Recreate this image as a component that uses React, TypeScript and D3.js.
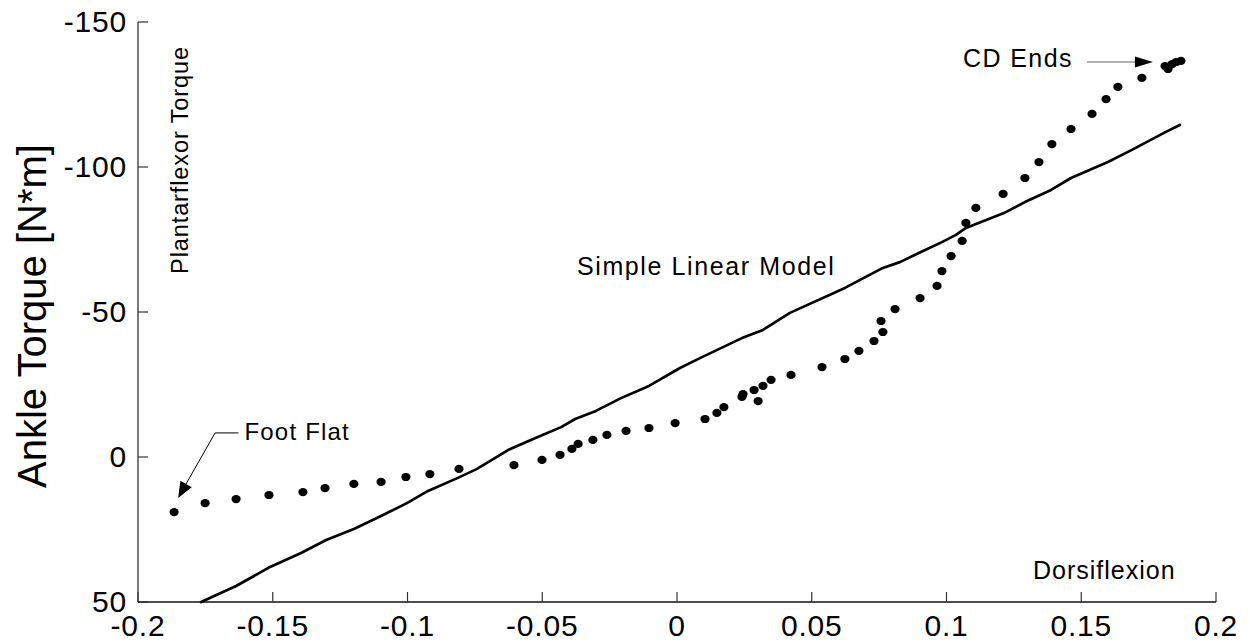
import React from "react";
import * as d3 from "d3";

// Measured ankle torque (dots)
const measuredAngle = [
  -0.1866, -0.1751, -0.1636, -0.1514, -0.1388, -0.1306, -0.1199, -0.1098, -0.1006, -0.0917,
  -0.0809, -0.0605, -0.0501, -0.0434, -0.039, -0.0367, -0.0312, -0.026, -0.0189, -0.0104,
  -0.0007, 0.0104, 0.0148, 0.0174, 0.0241, 0.0245, 0.0286, 0.0301, 0.0319, 0.0349,
  0.0423, 0.0538, 0.0623, 0.0675, 0.0731, 0.0764, 0.0757, 0.0809, 0.0902, 0.0965,
  0.0983, 0.1017, 0.1058, 0.1072, 0.1109, 0.121, 0.1291, 0.1343, 0.1391, 0.1462,
  0.154, 0.1592, 0.1636, 0.1725, 0.1811, 0.1822, 0.1837, 0.1852, 0.187,
];
const measuredTorque = [
  19.0, 15.9, 14.5, 13.1, 12.1, 10.7, 9.3, 8.6, 6.9, 5.9,
  4.1, 2.8, 1.0, -0.7, -2.8, -4.5, -5.9, -7.6, -9.0, -10.0,
  -11.7, -13.1, -15.2, -17.2, -20.7, -21.7, -23.1, -19.3, -24.5, -26.6,
  -28.3, -31.0, -33.8, -36.6, -40.0, -43.1, -46.9, -51.0, -54.8, -59.0,
  -64.1, -69.3, -74.5, -80.7, -85.9, -90.7, -96.2, -101.7, -107.9, -113.1,
  -118.3, -123.4, -127.6, -130.7, -134.8, -133.8, -135.5, -136.2, -136.6,
];

// Simple linear model (solid line)
const modelAngle = [
  -0.1766, -0.1636, -0.151, -0.1395, -0.1302, -0.1199, -0.1106, -0.1002, -0.0924, -0.0813,
  -0.0742, -0.0627, -0.0523, -0.043, -0.0378, -0.0301, -0.0208, -0.0104, 0.0011, 0.0085,
  0.0241, 0.0319, 0.0419, 0.0623, 0.0764, 0.0827, 0.0905, 0.0983, 0.1035, 0.1072,
  0.1213, 0.1291, 0.1388, 0.1462, 0.1599, 0.1688, 0.1814, 0.1866,
];
const modelTorque = [
  50.0, 44.5, 37.9, 33.1, 28.6, 24.8, 20.7, 15.9, 11.7, 7.2,
  4.1, -2.4, -6.6, -10.3, -13.1, -15.9, -20.3, -24.5, -30.7, -34.1,
  -41.0, -43.8, -49.7, -58.3, -65.2, -67.2, -70.7, -74.1, -76.6, -79.0,
  -84.1, -87.9, -92.1, -96.2, -101.7, -105.9, -112.1, -114.5,
];

const xTicks = [-0.2, -0.15, -0.1, -0.05, 0, 0.05, 0.1, 0.15, 0.2];
const xTickLabels = ["-0.2", "-0.15", "-0.1", "-0.05", "0", "0.05", "0.1", "0.15", "0.2"];
const yTicks = [-150, -100, -50, 0, 50];
const yTickLabels = ["-150", "-100", "-50", "0", "50"];

const FONT = "'Liberation Sans', Arial, sans-serif";

export default function App() {
  const W = 1250, H = 643;
  const left = 138, right = 1216, top = 22, bottom = 602;
  const x = d3.scaleLinear().domain([-0.2, 0.2]).range([left, right]);
  const y = d3.scaleLinear().domain([-150, 50]).range([top, bottom]);

  const pts = modelAngle.map((a, i) => [a, modelTorque[i]] as [number, number]);
  const linePath = d3.line<[number, number]>().x(d => x(d[0])).y(d => y(d[1]))(pts) || "";

  // Foot Flat arrow geometry (data coords)
  const ffText = { x: -0.1605, y: -6.7 };
  const ffElbow = { x: -0.1714, y: -8.3 };
  const ffTip = { x: -0.1851, y: 14.1 };
  const ex = x(ffElbow.x), ey = y(ffElbow.y);
  const tx = x(ffTip.x), ty = y(ffTip.y);
  const ang = Math.atan2(ty - ey, tx - ex);
  const hl = 16, hw = 6.5;
  const headFF = [
    [tx, ty],
    [tx - hl * Math.cos(ang) + hw * Math.sin(ang), ty - hl * Math.sin(ang) - hw * Math.cos(ang)],
    [tx - hl * Math.cos(ang) - hw * Math.sin(ang), ty - hl * Math.sin(ang) + hw * Math.cos(ang)],
  ].map(p => p.join(",")).join(" ");

  // CD Ends arrow
  const cdY = y(-136.2);
  const cdStart = x(0.1521), cdTip = x(0.1766);
  const headCD = [
    [cdTip, cdY],
    [cdTip - 18, cdY - 5.5],
    [cdTip - 18, cdY + 5.5],
  ].map(p => p.join(",")).join(" ");

  return (
    <svg width={W} height={H} style={{ position: "absolute", left: 0, top: 0, background: "#fff" }}
      fontFamily={FONT}>
      <rect x={0} y={0} width={W} height={H} fill="#fff" />
      {/* axes */}
      <line x1={left} y1={top} x2={left} y2={bottom} stroke="#333" strokeWidth={1.3} />
      <line x1={left} y1={bottom} x2={right} y2={bottom} stroke="#111" strokeWidth={1.3} />
      {yTicks.map(t => (
        <line key={"yt" + t} x1={left} x2={left + 10} y1={y(t)} y2={y(t)} stroke="#333" strokeWidth={1.2} />
      ))}
      {xTicks.map(t => (
        <line key={"xt" + t} x1={x(t)} x2={x(t)} y1={bottom} y2={bottom - 10} stroke="#333" strokeWidth={1.2} />
      ))}
      {yTicks.map((t, i) => (
        <text key={"yl" + t} x={127} y={y(t)} dy="0.34em" textAnchor="end" fontSize={30} letterSpacing={0.8} fill="#000">
          {yTickLabels[i]}
        </text>
      ))}
      {xTicks.map((t, i) => (
        <text key={"xl" + t} x={x(t)} y={636} textAnchor="middle" fontSize={30} letterSpacing={0.8} fill="#000">
          {xTickLabels[i]}
        </text>
      ))}
      <text transform={`translate(46,316) rotate(-90)`} textAnchor="middle" fontSize={40} fill="#000">
        Ankle Torque [N*m]
      </text>

      {/* model line */}
      <path d={linePath} fill="none" stroke="#000" strokeWidth={2.7} strokeLinejoin="round" strokeLinecap="round" />

      {/* measured dots */}
      {measuredAngle.map((a, i) => (
        <ellipse key={"p" + i} cx={x(a)} cy={y(measuredTorque[i])} rx={4.6} ry={4.1} fill="#000" />
      ))}

      {/* annotations */}
      <text transform={`translate(188,160) rotate(-90)`} textAnchor="middle" fontSize={23.5} letterSpacing={0.9} fill="#000">
        Plantarflexor Torque
      </text>
      <text x={577} y={275} fontSize={25} letterSpacing={1.6} fill="#000">Simple Linear Model</text>
      <text x={1033} y={579} fontSize={25} letterSpacing={1} fill="#000">Dorsiflexion</text>
      <text x={x(ffText.x)} y={440} fontSize={24} letterSpacing={1.2} fill="#000">Foot Flat</text>
      <text x={963} y={67} fontSize={25} letterSpacing={1.4} fill="#000">CD Ends</text>

      {/* Foot Flat arrow */}
      <line x1={x(ffText.x) - 6} y1={ey} x2={ex} y2={ey} stroke="#000" strokeWidth={1} />
      <line x1={ex} y1={ey} x2={tx - (hl - 2) * Math.cos(ang)} y2={ty - (hl - 2) * Math.sin(ang)} stroke="#000" strokeWidth={1} />
      <polygon points={headFF} fill="#000" />

      {/* CD Ends arrow */}
      <line x1={cdStart} y1={cdY} x2={cdTip - 16} y2={cdY} stroke="#666" strokeWidth={1.2} />
      <polygon points={headCD} fill="#000" />
    </svg>
  );
}
